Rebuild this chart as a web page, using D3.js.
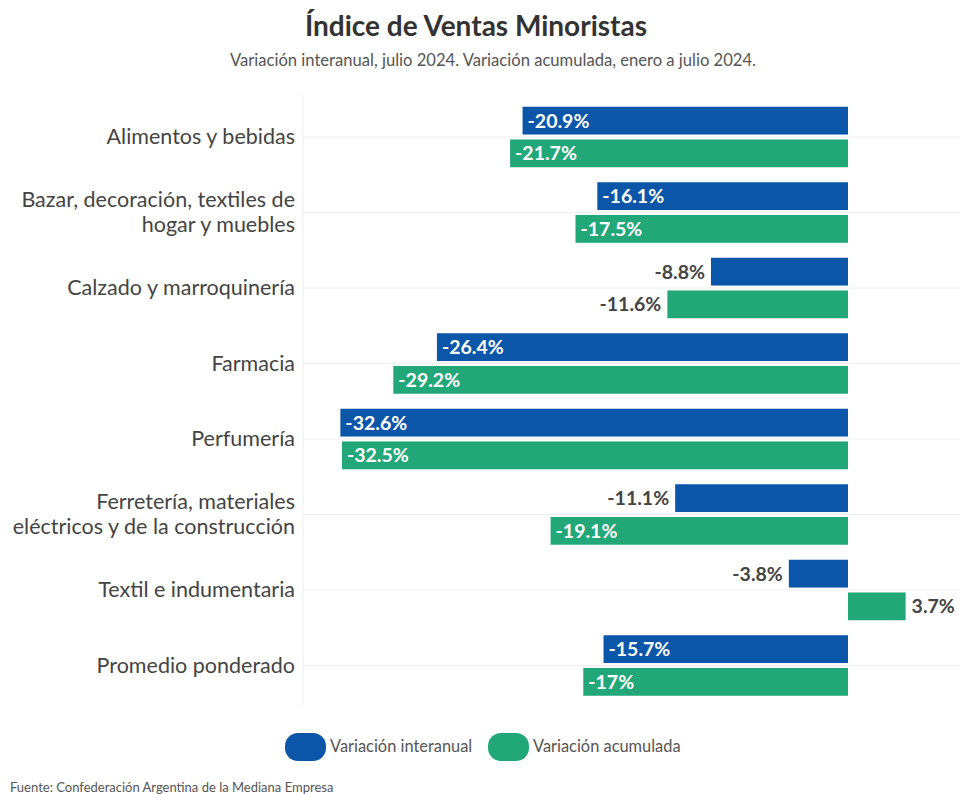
<!DOCTYPE html>
<html>
<head>
<meta charset="utf-8">
<script src="https://cdn.jsdelivr.net/npm/d3@7"></script>
<style>
  body { margin: 0; background: #fff; }
  text { font-family: Lato, "Open Sans", sans-serif; }
</style>
</head>
<body>
<svg id="chart" width="960" height="794"></svg>
<script>
// Data
const categories = [
  "Alimentos y bebidas",
  "Bazar, decoración, textiles de hogar y muebles",
  "Calzado y marroquinería",
  "Farmacia",
  "Perfumería",
  "Ferretería, materiales eléctricos y de la construcción",
  "Textil e indumentaria",
  "Promedio ponderado"
];
const categoryLines = [
  ["Alimentos y bebidas"],
  ["Bazar, decoración, textiles de", "hogar y muebles"],
  ["Calzado y marroquinería"],
  ["Farmacia"],
  ["Perfumería"],
  ["Ferretería, materiales", "eléctricos y de la construcción"],
  ["Textil e indumentaria"],
  ["Promedio ponderado"]
];
const interanual = [-20.9, -16.1, -8.8, -26.4, -32.6, -11.1, -3.8, -15.7];
const acumulada  = [-21.7, -17.5, -11.6, -29.2, -32.5, -19.1, 3.7, -17];
const seriesNames = ["Variación interanual", "Variación acumulada"];
const seriesColors = ["#0b56a8", "#22a878"];

const svg = d3.select("#chart");

// Title
svg.append("text")
  .attr("x", 476).attr("y", 36)
  .attr("text-anchor", "middle")
  .attr("font-size", 28).attr("font-weight", 700)
  .attr("fill", "#333")
  .text("Índice de Ventas Minoristas");

svg.append("text")
  .attr("x", 493).attr("y", 66)
  .attr("text-anchor", "middle")
  .attr("font-size", 16.6)
  .attr("fill", "#555")
  .text("Variación interanual, julio 2024. Variación acumulada, enero a julio 2024.");

// Scales
const x = d3.scaleLinear().domain([-35, 7]).range([303, 957]);
const y = d3.scaleBand().domain(categories).range([99.25, 703.25]);
const ySub = d3.scaleBand().domain(seriesNames).range([7.5, 68]).paddingInner(0.15);

// Grid
svg.append("line")
  .attr("x1", x(-35)).attr("x2", x(-35))
  .attr("y1", 95).attr("y2", 705)
  .attr("stroke", "#eee");

svg.append("g")
  .selectAll("line")
  .data(categories)
  .join("line")
  .attr("x1", x(-35)).attr("x2", 960)
  .attr("y1", d => y(d) + y.bandwidth() / 2)
  .attr("y2", d => y(d) + y.bandwidth() / 2)
  .attr("stroke", "#eee");

// Category labels
const labels = svg.append("g");
categories.forEach((c, i) => {
  const lines = categoryLines[i];
  const cy = y(c) + y.bandwidth() / 2;
  const t = labels.append("text")
    .attr("text-anchor", "end")
    .attr("font-size", 21.5)
    .attr("fill", "#444");
  lines.forEach((l, j) => {
    t.append("tspan")
      .attr("x", 295)
      .attr("y", cy + 7 + (j - (lines.length - 1) / 2) * 25)
      .text(l);
  });
});

// Bars
const rows = [];
categories.forEach((c, i) => {
  rows.push({ cat: c, s: 0, v: interanual[i] });
  rows.push({ cat: c, s: 1, v: acumulada[i] });
});

const bars = svg.append("g");
bars.selectAll("rect")
  .data(rows)
  .join("rect")
  .attr("x", d => x(Math.min(0, d.v)))
  .attr("y", d => y(d.cat) + ySub(seriesNames[d.s]))
  .attr("width", d => Math.abs(x(d.v) - x(0)))
  .attr("height", ySub.bandwidth())
  .attr("fill", d => seriesColors[d.s]);

const fmt = v => v + "%";

bars.selectAll("text")
  .data(rows)
  .join("text")
  .attr("font-size", 19.5).attr("font-weight", 700)
  .attr("y", d => y(d.cat) + ySub(seriesNames[d.s]) + ySub.bandwidth() / 2 + 7)
  .attr("x", d => {
    if (d.v > 0) return x(d.v) + 6;
    if (d.v > -12) return x(d.v) - 6;
    return x(d.v) + 5;
  })
  .attr("text-anchor", d => (d.v < 0 && d.v > -12) ? "end" : "start")
  .attr("fill", d => (d.v > 0 || d.v > -12) ? "#444" : "#fff")
  .text(d => fmt(d.v));

// Legend
const legend = svg.append("g");
const legendX = [285, 488];
seriesNames.forEach((s, i) => {
  legend.append("rect")
    .attr("x", legendX[i]).attr("y", 733)
    .attr("width", 41).attr("height", 28)
    .attr("rx", 13)
    .attr("fill", seriesColors[i]);
  legend.append("text")
    .attr("x", legendX[i] + 45).attr("y", 752)
    .attr("font-size", 16.4)
    .attr("fill", "#555")
    .text(s);
});

// Source
svg.append("text")
  .attr("x", 10).attr("y", 792)
  .attr("font-size", 13)
  .attr("fill", "#555")
  .text("Fuente: Confederación Argentina de la Mediana Empresa");
</script>
</body>
</html>
